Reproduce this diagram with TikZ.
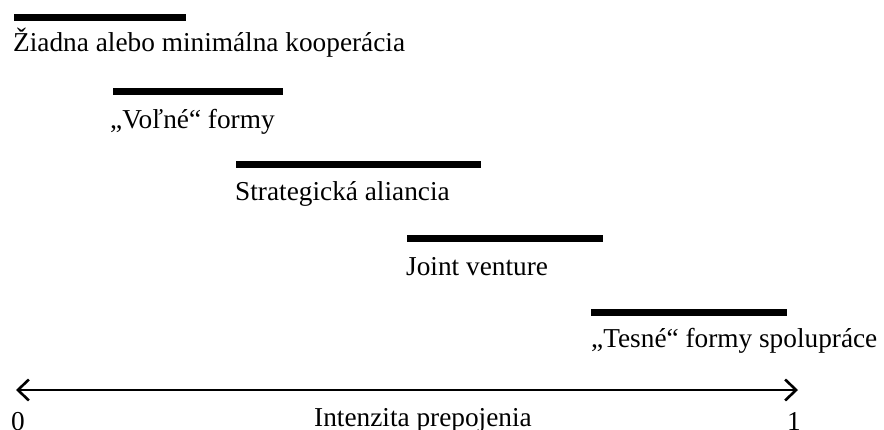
\documentclass[tikz,border=0pt]{standalone}
\usepackage{fontspec}
\setmainfont{Liberation Serif}
\usetikzlibrary{arrows.meta}
\begin{document}
\begin{tikzpicture}[x=1pt,y=-1pt,
  bar/.style={line width=7pt},
  lbl/.style={anchor=base west,inner sep=0pt,font=\fontsize{27.3}{32}\selectfont},
  axis/.style={line width=2.6pt,{Straight Barb[length=11pt,width=21pt,line width=2.6pt]}-{Straight Barb[length=11pt,width=21pt,line width=2.6pt]}}]
\useasboundingbox (0,0) rectangle (884,429);
% bars
\coordinate (b1s) at (14,17.5);  \coordinate (b1e) at (186,17.5);
\coordinate (b2s) at (113,91);   \coordinate (b2e) at (283,91);
\coordinate (b3s) at (236,164);  \coordinate (b3e) at (481,164);
\coordinate (b4s) at (407,238);  \coordinate (b4e) at (603,238);
\coordinate (b5s) at (591,312);  \coordinate (b5e) at (787,312);
\draw[bar] (b1s) -- (b1e);
\draw[bar] (b2s) -- (b2e);
\draw[bar] (b3s) -- (b3e);
\draw[bar] (b4s) -- (b4e);
\draw[bar] (b5s) -- (b5e);
% labels
\node[lbl] (t1) at (13,51) {Žiadna alebo minimálna kooperácia};
\node[lbl] (t2) at (110,128) {„Voľné“ formy};
\node[lbl] (t3) at (235,200) {Strategická aliancia};
\node[lbl] (t4) at (406,275) {Joint venture};
\node[lbl] (t5) at (591,347) {„Tesné“ formy spolupráce};
% axis
\coordinate (a0) at (16,390);
\coordinate (a1) at (798,390);
\draw[axis] (a0) -- (a1);
\node[lbl] (z) at (11,430.5) {0};
\node[lbl] (o) at (787,430.5) {1};
\node[lbl] (it) at (314,426) {Intenzita prepojenia};
\end{tikzpicture}
\end{document}
